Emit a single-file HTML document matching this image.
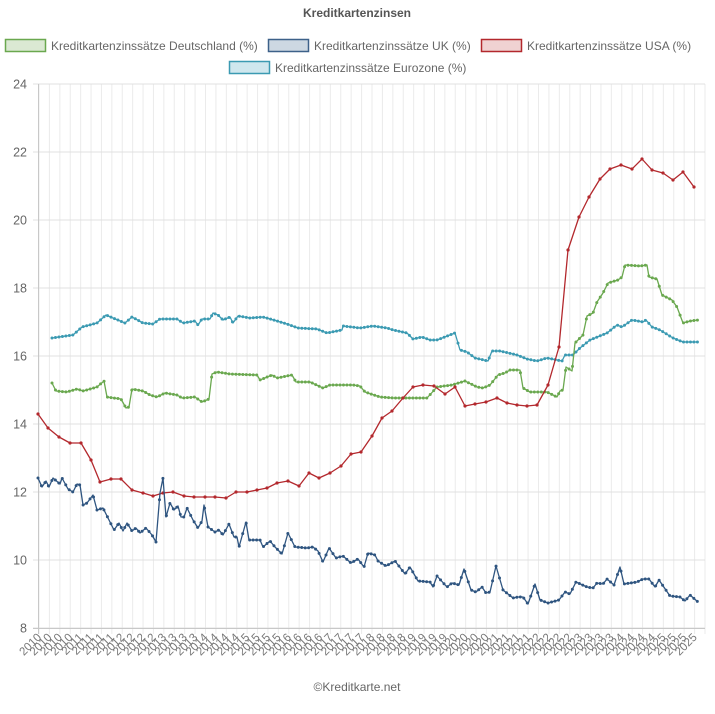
<!DOCTYPE html>
<html><head><meta charset="utf-8"><style>
body{margin:0;background:#fff;width:715px;height:709px;overflow:hidden;font-family:"Liberation Sans",Arial,sans-serif}
</style></head><body>
<svg id="s" width="715" height="709" xmlns="http://www.w3.org/2000/svg" font-family="Liberation Sans, Arial, sans-serif">
<text x="357" y="17" text-anchor="middle" font-size="12" font-weight="bold" fill="#555">Kreditkartenzinsen</text>
<rect x="5.5" y="39.5" width="40" height="12" fill="#dbe9d3" stroke="#6aa84f" stroke-width="1.5"/>
<text x="51" y="50" font-size="12" fill="#666">Kreditkartenzinssätze Deutschland (%)</text>
<rect x="268.5" y="39.5" width="40" height="12" fill="#cdd8e2" stroke="#3d6189" stroke-width="1.5"/>
<text x="314" y="50" font-size="12" fill="#666">Kreditkartenzinssätze UK (%)</text>
<rect x="481.5" y="39.5" width="40" height="12" fill="#f0d2d2" stroke="#b3282d" stroke-width="1.5"/>
<text x="527" y="50" font-size="12" fill="#666">Kreditkartenzinssätze USA (%)</text>
<rect x="229.5" y="61.5" width="40" height="12" fill="#cfe7ee" stroke="#3b9ab2" stroke-width="1.5"/>
<text x="275" y="72" font-size="12" fill="#666">Kreditkartenzinssätze Eurozone (%)</text>
<g id="grid"></g>
<g id="lines"></g>
<text x="357" y="691" text-anchor="middle" font-size="12" fill="#666">©Kreditkarte.net</text>
</svg>
<script>
var NS="http://www.w3.org/2000/svg",s=document.getElementById("s"),g=document.getElementById("grid"),L=document.getElementById("lines");
function el(t,a,p,txt){var e=document.createElementNS(NS,t);for(var k in a)e.setAttribute(k,a[k]);if(txt)e.textContent=txt;(p||g).appendChild(e);return e;}
var x0=39,x1=705,n=64,dx=(x1-x0)/n;
for(var i=0;i<=n;i++){var x=x0+i*dx;el("line",{x1:x,y1:84,x2:x,y2:634,stroke:"#ebebeb","stroke-width":1});
 if(i<n){var yr=2010+Math.floor(i/4);var lx=x+3,ly=638;el("text",{x:lx,y:ly,"font-size":"11.5",fill:"#777","text-anchor":"end",transform:"rotate(-45 "+lx+" "+ly+")"},g,String(yr));}}
for(var v=8;v<=24;v+=2){var y=84+(24-v)*34;el("line",{x1:33,y1:y,x2:705,y2:y,stroke:"#e0e0e0","stroke-width":1});
 el("text",{x:27,y:y+4.5,"font-size":"12.5",fill:"#666","text-anchor":"end"},g,String(v));}
el("line",{x1:38.5,y1:84,x2:38.5,y2:634,stroke:"#c8c8c8","stroke-width":1});
el("line",{x1:33,y1:628.5,x2:705,y2:628.5,stroke:"#c8c8c8","stroke-width":1});
var D={
"#3b9ab2":[52,338,73,335,82,327,97,323,106,315,113,318,125,323,132,317,143,323,153,324,160,319,177,319,183,323,195,321,198,325,202,319,210,319,213,313,218,315,223,320,230,317,233,323,238,316,250,318,263,317,277,321,287,324,298,328,317,329,327,333,342,330,343,326,360,328,373,326,387,328,393,330,407,333,413,339,422,337,430,340,437,340,455,333,460,350,467,352,475,358,488,361,492,351,500,351,517,355,527,359,537,361,547,358,562,361,565,355,573,355,580,348,590,340,607,333,617,325,622,327,632,320,643,322,646,320,652,327,660,330,673,338,683,342,698,342],
"#6aa84f":[52,383,56,391,67,392,77,389,83,391,97,387,104,381,107,397,121,399,126,408,129,407,132,389,143,391,150,395,157,397,165,393,177,395,182,398,195,397,202,402,209,399,212,374,217,372,230,374,257,375,260,380,272,375,277,378,292,375,296,382,310,382,323,388,330,385,353,385,360,386,365,392,380,397,393,398,427,398,437,387,452,385,465,381,477,387,483,388,490,385,498,375,505,373,510,370,520,370,523,388,530,392,547,392,557,397,560,391,563,390,566,367,572,371,575,343,583,335,587,316,593,313,597,302,603,293,608,283,618,280,622,277,625,265,640,266,647,265,649,277,657,279,662,295,672,300,677,307,683,323,690,321,698,320],
"#b3282d":[38,414,48,428,59,437,70,443,81,443,91,460,100,482,111,479,121,479,132,490,143,493,153,496,163,493,173,492,184,496,194,497,205,497,215,497,226,498,236,492,247,492,257,490,267,488,277,483,288,481,299,486,309,473,319,478,330,473,341,466,351,454,361,452,372,436,382,418,392,411,403,398,413,387,423,385,434,386,445,394,455,387,465,406,475,404,486,402,497,398,507,403,517,405,527,406,537,405,548,385,559,347,568,250,579,217,589,197,600,179,610,169,621,165,632,169,642,159,652,170,663,173,673,180,683,172,694,187],
"#2f5580":[38,478,42,487,46,481,49,487,53,478,60,484,62,478,68,489,73,492,77,484,80,485,83,505,87,503,93,495,97,510,103,508,107,516,114,530,119,523,123,531,127,523,132,531,136,528,140,533,146,528,152,535,156,542,160,493,163,478,166,517,170,503,174,510,178,506,181,517,184,517,187,508,193,520,198,528,202,521,204,505,208,527,215,532,219,530,223,535,229,524,234,537,237,537,239,547,246,522,249,540,260,540,263,547,270,541,275,547,282,554,288,533,295,547,307,548,313,547,318,551,323,562,329,548,336,558,343,556,351,563,358,559,364,567,368,553,375,555,378,561,386,566,395,561,405,574,410,567,418,581,430,582,433,587,437,576,447,587,452,583,459,585,464,569,471,590,476,592,482,587,486,593,490,592,496,566,503,590,513,598,518,597,523,597,528,604,535,584,540,600,548,603,559,600,565,592,570,594,576,582,587,587,593,588,597,583,603,584,607,579,614,585,620,567,624,584,637,582,643,579,649,579,655,587,659,580,670,596,680,597,685,601,690,595,698,602]};
for(var c in D){var a=D[c],p=[];for(var i=0;i<a.length;i+=2)p.push(a[i]+","+a[i+1]);
 el("polyline",{points:p.join(" "),fill:"none",stroke:c,"stroke-width":1.3,"stroke-linejoin":"round"},L);
 if(c=="#b3282d"){for(var i=0;i<a.length;i+=2)el("circle",{cx:a[i],cy:a[i+1],r:1.6,fill:c},L);}
 else{var step=3.47;for(var x=a[0];x<=a[a.length-2]+0.01;x+=step){var j=0;while(j<a.length-4&&a[j+2]<x)j+=2;var xa=a[j],xb=a[j+2],ya=a[j+1],yb=a[j+3];var t=xb>xa?(x-xa)/(xb-xa):0;if(t<0)t=0;if(t>1)t=1;el("circle",{cx:x,cy:ya+(yb-ya)*t,r:1.5,fill:c},L);}}}
</script>
</body></html>
